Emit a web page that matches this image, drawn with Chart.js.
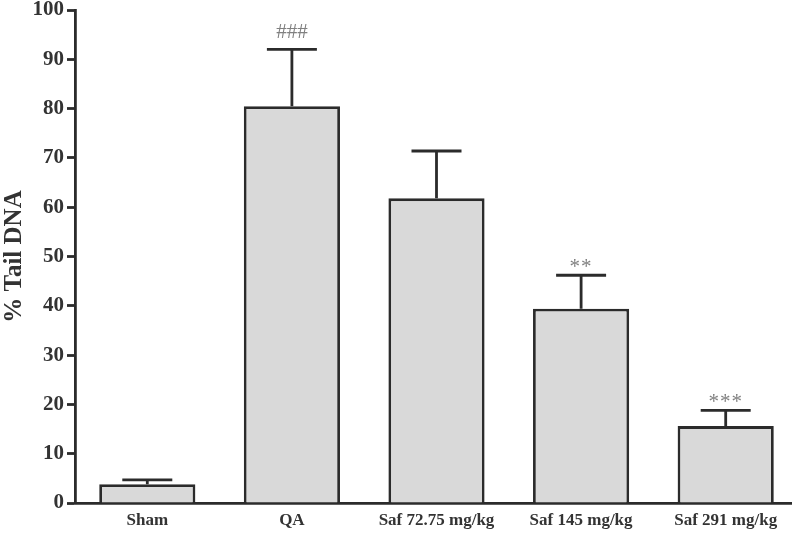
<!DOCTYPE html>
<html>
<head>
<meta charset="utf-8">
<script src="https://cdn.jsdelivr.net/npm/chart.js@4/dist/chart.umd.min.js"></script>
<style>
  html, body { margin: 0; padding: 0; background: #fff; overflow: hidden; }
  #wrap { width: 798px; height: 548px; }
</style>
</head>
<body>
<div id="wrap"><canvas id="chart" width="798" height="548"></canvas></div>
<script>
// data
const groups = ["Sham", "QA", "Saf 72.75 mg/kg", "Saf 145 mg/kg", "Saf 291 mg/kg"];
const tailDNA = [3.8, 80.5, 61.8, 39.4, 15.6];
const errorUp = [0.9, 11.5, 9.6, 6.8, 3.2];
const marks = ["", "###", "", "**", "***"];
const yTicks = [0, 10, 20, 30, 40, 50, 60, 70, 80, 90, 100];

const ink = "#2b2b2b";
const serif = "'Liberation Serif', 'Times New Roman', serif";

// error bars + significance marks
const errorBars = {
  id: "errorBars",
  afterDatasetsDraw(chart) {
    const ctx = chart.ctx;
    const y = chart.scales.y;
    const meta = chart.getDatasetMeta(0);
    ctx.save();
    ctx.strokeStyle = ink;
    ctx.lineWidth = 2.8;
    meta.data.forEach(function(bar, i) {
      const top = y.getPixelForValue(tailDNA[i]);
      const cap = y.getPixelForValue(tailDNA[i] + errorUp[i]);
      ctx.beginPath();
      ctx.moveTo(bar.x, top);
      ctx.lineTo(bar.x, cap);
      ctx.moveTo(bar.x - 25, cap);
      ctx.lineTo(bar.x + 25, cap);
      ctx.stroke();
      if (marks[i]) {
        ctx.fillStyle = "#808080";
        ctx.font = "21px " + serif;
        ctx.textAlign = "center";
        ctx.textBaseline = "alphabetic";
        const star = marks[i][0] === "*";
        ctx.letterSpacing = star ? "1px" : "0px";
        ctx.fillText(marks[i], bar.x, cap - (star ? 2 : 11));
      }
    });
    ctx.restore();
  }
};

new Chart(document.getElementById("chart"), {
  type: "bar",
  data: {
    labels: groups,
    datasets: [{
      label: "% Tail DNA",
      data: tailDNA,
      backgroundColor: "#d9d9d9",
      borderColor: ink,
      borderWidth: 2.8,
      borderSkipped: "bottom",
      barPercentage: 0.665,
      categoryPercentage: 1.0
    }]
  },
  options: {
    responsive: false,
    animation: false,
    layout: { padding: { top: 10, right: 0, left: 0, bottom: 0 } },
    plugins: { legend: { display: false }, tooltip: { enabled: false } },
    scales: {
      x: {
        afterFit: function(s) { s.height = 45; },
        grid: { display: true, drawOnChartArea: false, drawTicks: false, color: "rgba(0,0,0,0)" },
        border: { display: true, color: ink, width: 2.8 },
        ticks: { color: "#333", font: { family: serif, size: 17, weight: "bold" }, padding: 7 }
      },
      y: {
        min: 0,
        max: 100,
        afterFit: function(s) { s.width = 75; s.paddingTop = 0; s.paddingBottom = 0; },
        afterBuildTicks: function(s) { s.ticks = yTicks.map(function(v) { return { value: v }; }); },
        grid: { display: true, drawOnChartArea: false, drawTicks: true, tickLength: 8, tickWidth: 2.8, tickColor: ink },
        border: { display: true, color: ink, width: 2.8 },
        ticks: { color: "#333", font: { family: serif, size: 21, weight: "bold" }, padding: 3 },
        title: {
          display: true,
          text: "% Tail DNA",
          color: "#333",
          font: { family: serif, size: 25, weight: "bold" },
          padding: { top: 0, bottom: 0 }
        }
      }
    }
  },
  plugins: [errorBars]
});
</script>
</body>
</html>
